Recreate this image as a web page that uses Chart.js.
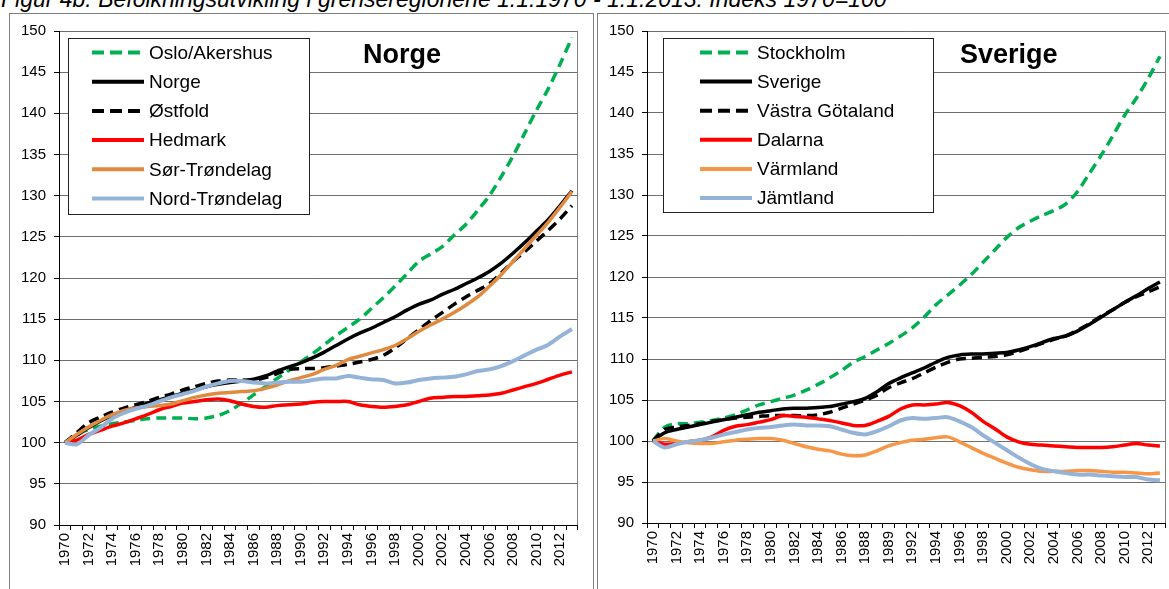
<!DOCTYPE html>
<html>
<head>
<meta charset="utf-8">
<script src="https://cdn.jsdelivr.net/npm/chart.js@4.4.1/dist/chart.umd.min.js"></script>
<style>
  html, body { margin: 0; padding: 0; background: #fff; width: 1169px; height: 589px; overflow: hidden; }
  #caption { position: absolute; left: 1px; top: -12px; font: italic 23px "Liberation Sans", Arial, sans-serif; line-height: 23px; white-space: nowrap; color: #000; }
  .box { position: absolute; top: 13px; width: 583px; height: 600px; border: 1px solid #7f7f7f; }
  #boxNo { left: 9px; }
  #boxSe { left: 597px; }
  canvas { display: block; }
</style>
</head>
<body>
<div id="caption">Figur 4b. Befolkningsutvikling i grenseregionene 1.1.1970 - 1.1.2013. Indeks 1970=100</div>
<div class="box" id="boxNo"><canvas id="norge" width="583" height="600"></canvas></div>
<div class="box" id="boxSe"><canvas id="sverige" width="583" height="600"></canvas></div>

<script>
// categories
const noYears = ["1970","1971","1972","1973","1974","1975","1976","1977","1978","1979",
  "1980","1981","1982","1983","1984","1985","1986","1987","1988","1989",
  "1990","1991","1992","1993","1994","1995","1996","1997","1998","1999",
  "2000","2001","2002","2003","2004","2005","2006","2007","2008","2009",
  "2010","2011","2012","2013"];
// the Swedish axis prints "1989" where 1990 would be
const seYears = ["1970","1971","1972","1973","1974","1975","1976","1977","1978","1979",
  "1980","1981","1982","1983","1984","1985","1986","1987","1988","1989",
  "1989","1991","1992","1993","1994","1995","1996","1997","1998","1999",
  "2000","2001","2002","2003","2004","2005","2006","2007","2008","2009",
  "2010","2011","2012","2013"];

// Norge, index 1970 = 100
const osloAkershus = [100,101.0,101.6,102.0,102.3,102.5,102.7,102.9,103.0,103.0,
  103.0,102.9,103.0,103.3,103.9,104.8,105.8,106.8,107.8,108.8,
  109.8,110.8,111.9,113.0,114.0,115.0,116.3,117.6,119.0,120.5,
  122.0,122.9,123.8,125.2,126.5,128.2,130.0,132.3,134.8,137.6,
  140.4,143.0,146.0,149.2];
const norge = [100,100.9,101.8,102.6,103.3,103.8,104.3,104.8,105.2,105.6,
  106.0,106.4,106.8,107.1,107.3,107.5,107.7,108.1,108.7,109.2,
  109.7,110.3,111.0,111.8,112.6,113.3,113.9,114.6,115.3,116.1,
  116.8,117.3,118.0,118.6,119.3,120.0,120.8,121.8,123.0,124.3,
  125.7,127.1,128.8,130.6];
const ostfold = [100,101.2,102.4,103.1,103.7,104.2,104.6,105.0,105.5,105.9,
  106.4,106.8,107.2,107.5,107.6,107.6,107.6,107.9,108.4,108.9,
  109.0,109.0,109.1,109.3,109.5,109.8,110.1,110.6,111.5,112.6,
  113.7,114.8,115.8,116.8,117.7,118.5,119.3,120.6,122.0,123.2,
  124.5,125.8,127.2,128.8];
const hedmark = [100,100.3,101.0,101.5,102.0,102.4,102.9,103.4,104.0,104.4,
  104.8,105.0,105.2,105.3,105.1,104.7,104.4,104.3,104.5,104.6,
  104.7,104.9,105.0,105.0,105.0,104.6,104.4,104.3,104.4,104.6,
  105.0,105.4,105.5,105.6,105.6,105.7,105.8,106.0,106.4,106.8,
  107.2,107.7,108.2,108.6];
const sorTrondelag = [100,101.0,101.9,102.7,103.4,103.9,104.2,104.4,104.5,104.7,
  105.1,105.5,105.8,106.0,106.1,106.2,106.3,106.6,107.0,107.5,
  107.9,108.3,108.9,109.4,110.1,110.5,110.9,111.3,111.8,112.6,
  113.5,114.3,115.0,115.8,116.7,117.7,119.0,120.4,122.0,123.6,
  125.2,126.8,128.6,130.5];
const nordTrondelag = [100,99.8,100.9,101.8,102.9,103.6,104.1,104.5,105.0,105.5,
  105.9,106.3,106.8,107.2,107.5,107.5,107.3,107.2,107.3,107.4,
  107.4,107.6,107.8,107.8,108.1,107.9,107.7,107.6,107.2,107.3,
  107.6,107.8,107.9,108.0,108.3,108.7,108.9,109.3,109.9,110.6,
  111.3,111.9,112.9,113.8];

// Sverige, index 1970 = 100
const stockholm = [100,101.7,102.1,102.1,102.3,102.5,102.8,103.2,103.8,104.4,
  104.8,105.2,105.6,106.2,106.9,107.7,108.6,109.6,110.3,111.1,
  111.9,112.8,113.8,115.1,116.6,117.8,119.0,120.3,121.8,123.3,
  124.8,126.0,126.8,127.5,128.1,128.9,130.4,132.6,134.8,137.2,
  139.7,141.8,144.2,146.9];
const sverige = [100,101.0,101.4,101.7,102.0,102.3,102.6,102.9,103.2,103.5,
  103.7,103.9,104.0,104.0,104.1,104.2,104.5,104.8,105.2,106.0,
  107.0,107.7,108.3,108.9,109.6,110.2,110.5,110.6,110.6,110.7,
  110.8,111.1,111.5,112.0,112.5,112.8,113.4,114.2,115.1,116.0,
  116.9,117.7,118.6,119.4];
const vastraGotaland = [100,101.4,101.7,101.9,102.1,102.4,102.6,102.8,102.9,103.0,
  103.1,103.1,103.1,103.1,103.2,103.5,104.0,104.5,105.0,105.6,
  106.5,107.1,107.6,108.3,109.0,109.6,110.0,110.1,110.2,110.3,
  110.5,110.9,111.4,111.9,112.4,112.8,113.5,114.3,115.2,116.0,
  116.9,117.6,118.2,118.8];
const dalarna = [100,99.6,99.7,99.9,100.1,100.5,101.3,101.8,102.0,102.3,
  102.6,103.1,103.0,102.9,102.7,102.5,102.2,101.9,101.9,102.4,
  103.0,103.9,104.4,104.4,104.5,104.7,104.3,103.5,102.4,101.5,
  100.5,99.9,99.6,99.5,99.4,99.3,99.2,99.2,99.2,99.3,
  99.5,99.7,99.5,99.4];
const varmland = [100,100.3,100.0,99.8,99.7,99.7,99.9,100.1,100.2,100.3,
  100.3,100.1,99.7,99.3,99.0,98.8,98.4,98.2,98.3,98.8,
  99.4,99.8,100.1,100.2,100.4,100.5,99.9,99.2,98.5,97.9,
  97.3,96.8,96.5,96.3,96.3,96.3,96.4,96.4,96.3,96.2,
  96.2,96.1,96.0,96.1];
const jamtland = [100,99.2,99.6,99.9,100.1,100.4,100.8,101.1,101.4,101.6,
  101.7,101.9,102.0,101.9,101.9,101.8,101.4,101.0,100.8,101.2,
  101.8,102.5,102.8,102.7,102.8,102.9,102.4,101.7,100.7,99.8,
  98.9,98.0,97.2,96.6,96.3,96.1,95.9,95.9,95.8,95.7,
  95.6,95.6,95.3,95.2];

const yTicks = [90, 95, 100, 105, 110, 115, 120, 125, 130, 135, 140, 145, 150];

const FONT = '"Liberation Sans", Arial, sans-serif';
const GREEN = '#00b050', RED = '#ff0000', BLUE = '#95b3d7';
const DASH = [10, 6];

function series(label, data, color, dash, width, n, i) {
  return {
    label: label, data: data,
    borderColor: color, backgroundColor: color,
    borderWidth: width || 3.5, borderDash: dash || [],
    pointRadius: 0, tension: 0.3, fill: false,
    order: n - i   // later series on top, like the original
  };
}

// legend box, panel title and plot frame drawn inside the canvas
const panelPlugin = {
  id: 'panel',
  beforeDatasetsDraw(chart, args, o) {
    const ctx = chart.ctx, a = chart.chartArea;
    ctx.save();
    ctx.strokeStyle = '#7f7f7f';
    ctx.lineWidth = 1;
    ctx.beginPath();
    ctx.moveTo(Math.round(a.right) - 0.5, a.top);
    ctx.lineTo(Math.round(a.right) - 0.5, a.bottom);
    ctx.stroke();
    ctx.restore();
  },
  afterDraw(chart, args, o) {
    const ctx = chart.ctx;
    ctx.save();
    // legend
    const b = o.box;
    ctx.fillStyle = '#fff';
    ctx.fillRect(b.x, b.y, b.w, b.h);
    ctx.strokeStyle = '#222';
    ctx.lineWidth = 1;
    ctx.strokeRect(b.x + 0.5, b.y + 0.5, b.w, b.h);
    ctx.font = '19px ' + FONT;
    ctx.textBaseline = 'middle';
    chart.data.datasets.forEach((ds, i) => {
      const y = o.row0 + i * o.rowStep;
      ctx.strokeStyle = ds.borderColor;
      ctx.lineWidth = 4;
      ctx.setLineDash(ds.borderDash.length ? [12, 6] : []);
      ctx.beginPath();
      ctx.moveTo(o.sample0, y);
      ctx.lineTo(o.sample1, y);
      ctx.stroke();
      ctx.setLineDash([]);
      ctx.fillStyle = '#000';
      ctx.fillText(ds.label, o.textX, y + 1);
    });
    // title
    ctx.font = 'bold 27px ' + FONT;
    ctx.textBaseline = 'alphabetic';
    ctx.fillStyle = '#000';
    ctx.fillText(o.title, o.titleX, o.titleY);
    ctx.restore();
  }
};

function makeChart(id, labels, datasets, top, panel) {
  return new Chart(document.getElementById(id), {
    type: 'line',
    data: { labels: labels, datasets: datasets },
    plugins: [panelPlugin],
    options: {
      responsive: false,
      animation: false,
      layout: { padding: { top: top, right: 6, left: 0, bottom: 0 } },
      plugins: {
        legend: { display: false },
        tooltip: { enabled: false },
        title: { display: false },
        panel: panel
      },
      scales: {
        x: {
          type: 'category',
          offset: true,
          afterFit: s => { s.height = 89 - top + 16; },
          grid: { drawOnChartArea: false, offset: true, tickLength: 5, tickColor: '#000' },
          border: { color: '#000', width: 1 },
          ticks: {
            autoSkip: false, minRotation: 90, maxRotation: 90, padding: 3,
            color: '#000', font: { family: FONT, size: 15 },
            callback: function (v, i) { return i % 2 === 0 ? this.getLabelForValue(v) : ''; }
          }
        },
        y: {
          min: 90, max: 150,
          afterFit: s => { s.width = 49; },
          afterBuildTicks: s => { s.ticks = yTicks.map(v => ({ value: v })); },
          grid: { color: '#6f6f6f', lineWidth: 1, tickLength: 5, tickColor: '#000' },
          border: { color: '#000', width: 1 },
          ticks: { color: '#000', padding: 8, font: { family: FONT, size: 15 } }
        }
      }
    }
  });
}

const noSets = [
  ['Oslo/Akershus', osloAkershus, GREEN, DASH],
  ['Norge', norge, '#000000'],
  ['Østfold', ostfold, '#000000', DASH],
  ['Hedmark', hedmark, RED],
  ['Sør-Trøndelag', sorTrondelag, '#e08a40'],
  ['Nord-Trøndelag', nordTrondelag, BLUE, null, 4]
];
const seSets = [
  ['Stockholm', stockholm, GREEN, DASH],
  ['Sverige', sverige, '#000000'],
  ['Västra Götaland', vastraGotaland, '#000000', DASH],
  ['Dalarna', dalarna, RED],
  ['Värmland', varmland, '#f79646'],
  ['Jämtland', jamtland, BLUE, null, 4]
];

makeChart('norge', noYears,
  noSets.map((s, i) => series(s[0], s[1], s[2], s[3], s[4], noSets.length, i)), 16,
  { title: 'Norge', titleX: 353, titleY: 49,
    box: { x: 58, y: 24, w: 241, h: 176 },
    row0: 38.5, rowStep: 29.2, sample0: 82, sample1: 134, textX: 139 });

makeChart('sverige', seYears,
  seSets.map((s, i) => series(s[0], s[1], s[2], s[3], s[4], seSets.length, i)), 14,
  { title: 'Sverige', titleX: 362, titleY: 49,
    box: { x: 65, y: 24, w: 270, h: 174 },
    row0: 38.5, rowStep: 29.1, sample0: 102, sample1: 154, textX: 159 });
</script>
</body>
</html>
